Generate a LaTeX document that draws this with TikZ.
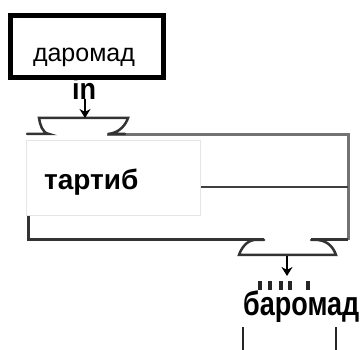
\documentclass[tikz,border=0pt]{standalone}
\usepackage{fontspec}
\setmainfont{Liberation Sans}
\usetikzlibrary{arrows.meta}
\begin{document}
\begin{tikzpicture}[x=1pt,y=-1pt,
  frame/.style={line width=3, draw=#1},
  tray/.style={line width=2.5, draw=black!80, line cap=round},
  arr/.style={line width=2.5, -{Stealth[length=9,width=11]}},
  lbl/.style={inner sep=0, font=\fontsize{25}{30}\selectfont}]
\useasboundingbox (0,0) rectangle (362,350);
% main frame
\draw[frame=black!55] (107,135) -- (348,135) -- (348,240);
\draw[frame=black!80] (264,240) -- (28,240) -- (28,213);
\draw[frame=black!40, line width=1.5] (28,213) -- (28,140);
\draw[frame=black!75, line width=2] (199,187) -- (348,187);
\draw[frame=black!80] (311,240) -- (348,240);
% white label area
\draw[fill=white, draw=black!10, line width=0.6] (26,140) rectangle (200,215);
\node[lbl, font=\bfseries\fontsize{28}{30}\selectfont, anchor=base west] (tar) at (44,190) {тартиб};
% top box
\node[draw, line width=5, minimum width=153, minimum height=62, inner sep=0] (dar) at (87,46.5) {};
\node[lbl, anchor=base] (dartext) at (84,62) {даромад};
\node[font=\bfseries\fontsize{30}{30}\selectfont, inner sep=0, anchor=base, xscale=0.9] (inl) at (84,100) {in};
% top tray
\draw[tray] (27,134) -- (49,134) .. controls (42,133) and (40,124) .. (39,118) -- (128,118) .. controls (126,124) and (120,133) .. (108,134) -- (125,134);
\coordinate (tin) at (85,118);
\draw[arr] (85,99) -- (tin);
% bottom tray
\draw[tray] (264,240) -- (254,240) .. controls (246,241) and (241,249) .. (239,255) -- (336,255) .. controls (334,249) and (329,241) .. (318,240) -- (311,240);
\coordinate (bout) at (287,256);
\coordinate (bend) at (287,276);
\draw[arr] (bout) -- (bend);
% cut-off marks
\foreach \xx in {258,268,279,288,306}
  \fill[black!85] (\xx,281) rectangle (\xx+4,290);
% bottom box
\draw[line width=2, draw=black!85] (243,327) -- (243,350);
\draw[line width=2, draw=black!85] (336,327) -- (336,350);
\node[lbl, font=\bfseries\fontsize{27}{30}\selectfont, anchor=base west, fill=white, inner sep=1, yscale=1.25] (bar) at (242,316) {баромад};
\end{tikzpicture}
\end{document}
